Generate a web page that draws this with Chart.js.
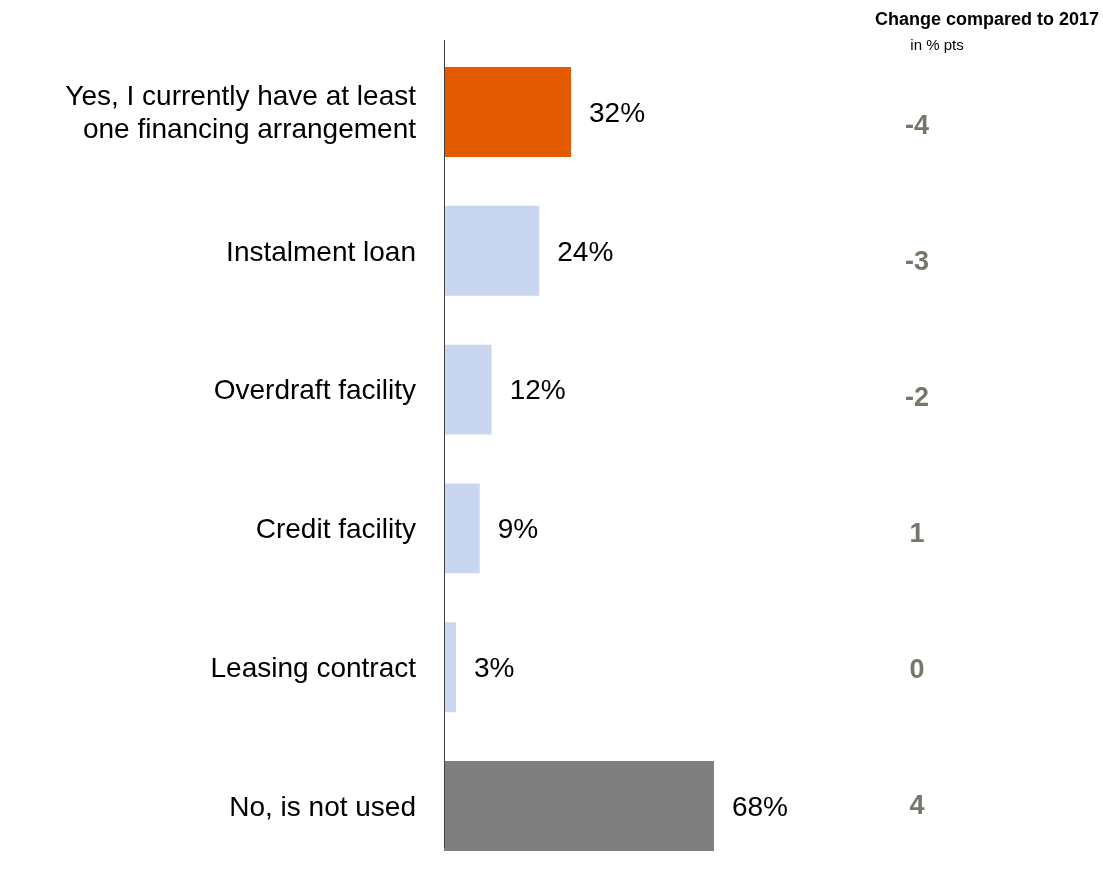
<!DOCTYPE html>
<html>
<head>
<meta charset="utf-8">
<script src="https://cdn.jsdelivr.net/npm/chart.js@4.4.0/dist/chart.umd.min.js"></script>
<style>
  html, body { margin: 0; padding: 0; background: #ffffff; overflow: hidden; }
  #wrap { position: relative; width: 1103px; height: 872px; overflow: hidden; }
  #wrap canvas { display: block; }
</style>
</head>
<body>
<div id="wrap"><canvas id="c" width="1103" height="876" style="width:1103px;height:876px"></canvas></div>
<script>
const categories = [
  ["Yes, I currently have at least", "one financing arrangement"],
  "Instalment loan",
  "Overdraft facility",
  "Credit facility",
  "Leasing contract",
  "No, is not used"
];
const shares = [32, 24, 12, 9, 3, 68];
const changeVs2017 = ["-4", "-3", "-2", "1", "0", "4"];
const headerTitle = "Change compared to 2017";
const headerSub = "in % pts";

const FONT = "'Liberation Sans', Arial, sans-serif";
const barColors = ["#E35A00", "#C9D6EF", "#C9D6EF", "#C9D6EF", "#C9D6EF", "#7F7F7F"];

const overlay = {
  id: 'overlay',
  afterDraw(chart) {
    const ctx = chart.ctx;
    const area = chart.chartArea;
    const yScale = chart.scales.y;
    const meta = chart.getDatasetMeta(0);
    ctx.save();
    // axis line
    ctx.strokeStyle = '#404040';
    ctx.lineWidth = 1;
    ctx.beginPath();
    ctx.moveTo(Math.round(area.left) + 0.5, 40);
    ctx.lineTo(Math.round(area.left) + 0.5, 848);
    ctx.stroke();
    // category labels (from the y scale's labels)
    ctx.font = '28px ' + FONT;
    ctx.fillStyle = '#000000';
    ctx.textAlign = 'right';
    ctx.textBaseline = 'middle';
    yScale.getLabels().forEach((lab, i) => {
      const yc = yScale.getPixelForValue(i);
      const lines = Array.isArray(lab) ? lab : [lab];
      const lh = 33;
      lines.forEach((ln, k) => {
        ctx.fillText(ln, area.left - 28, yc + 2 + (k - (lines.length - 1) / 2) * lh);
      });
    });
    // value labels
    meta.data.forEach((bar, i) => {
      ctx.font = '28px ' + FONT;
      ctx.fillStyle = '#000000';
      ctx.textAlign = 'left';
      ctx.textBaseline = 'middle';
      ctx.fillText(shares[i] + '%', bar.x + 18, bar.y + 2);
    });
    // change column
    const n = changeVs2017.length;
    const yTop = 127, yBot = 807;
    ctx.font = 'bold 27px ' + FONT;
    ctx.fillStyle = '#76766A';
    ctx.textAlign = 'center';
    ctx.textBaseline = 'middle';
    changeVs2017.forEach((v, i) => {
      ctx.fillText(v, 917, yTop + i * (yBot - yTop) / (n - 1));
    });
    // header
    ctx.fillStyle = '#000000';
    ctx.font = 'bold 18px ' + FONT;
    ctx.textAlign = 'right';
    ctx.textBaseline = 'alphabetic';
    ctx.fillText(headerTitle, 1099, 25);
    ctx.font = '15px ' + FONT;
    ctx.textAlign = 'center';
    ctx.fillText(headerSub, 937, 50);
    ctx.restore();
  }
};

new Chart(document.getElementById('c'), {
  type: 'bar',
  data: {
    labels: categories,
    datasets: [{
      data: shares,
      backgroundColor: barColors,
      borderWidth: 0,
      barPercentage: 0.648,
      categoryPercentage: 1
    }]
  },
  options: {
    indexAxis: 'y',
    responsive: false,
    animation: false,
    devicePixelRatio: 1,
    layout: { padding: { top: 42.6, bottom: 0.6, left: 0, right: 262 } },
    plugins: { legend: { display: false }, tooltip: { enabled: false } },
    scales: {
      x: { display: false, min: 0, max: 100 },
      y: {
        grid: { display: false, drawTicks: false },
        border: { display: false },
        ticks: { display: false, padding: 0 },
        afterFit(scale) { scale.width = 444; }
      }
    }
  },
  plugins: [overlay]
});
</script>
</body>
</html>
